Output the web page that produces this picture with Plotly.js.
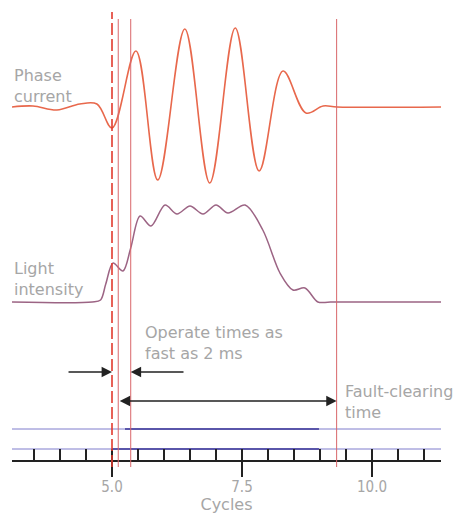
<!DOCTYPE html>
<html>
<head>
<meta charset="utf-8">
<script src="https://cdn.plot.ly/plotly-3.0.1.min.js"></script>
<style>html,body{margin:0;padding:0;background:#fff;}#chart{width:463px;height:516px;}</style>
</head>
<body>
<div id="chart"></div>
<script>
// ---- data (time axis in cycles) ----
const currentCycles = [3.077, 3.48, 3.94, 4.38, 4.71, 5.00, 5.46, 5.88, 6.40, 6.88, 7.37, 7.83, 8.29, 8.73, 9.06, 9.33, 11.327];
const phaseCurrent  = [0, 0.1, -0.3, 0.3, 0.3, -2.1, 5.6, -7.3, 7.8, -7.6, 7.9, -6.4, 3.6, -0.6, 0.1, 0, 0];

const lightCycles    = [3.077, 4.62, 4.78, 4.88, 5.02, 5.21, 5.36, 5.54, 5.75, 6.02, 6.25, 6.50, 6.75, 7.00, 7.23, 7.56, 7.90, 8.23, 8.48, 8.71, 8.96, 9.2, 11.327];
const lightIntensity = [0, 0, 0.2, 1.8, 3.9, 3.1, 5.4, 8.6, 7.6, 9.7, 8.8, 9.6, 8.8, 9.7, 8.9, 9.7, 7.2, 2.9, 1.2, 1.4, 0, 0, 0];

// event markers (cycles): fault inception (dashed), detection, trip output, fault cleared
const markerCycles = [5.0, 5.12, 5.36, 9.32];

// trip signals (levels in lower panel) with active interval
const tripLevels = [3.1, 1.1];
const tripStart  = [5.25, 5.0];
const tripEnd    = [8.98, 8.98];

// arrows in lower panel
const operateArrowLevel = 8.8;
const operateArrowFrom  = [4.135, 6.404];
const clearingArrowLevel = 5.9;

const xRange = [3.077, 11.327];
const tickVals = [5.0, 7.5, 10.0];

const textColor = '#a6a6a6';
const font = 'DejaVu Sans, sans-serif';

const traces = [
  {x: currentCycles, y: phaseCurrent, xaxis: 'x', yaxis: 'y', mode: 'lines',
   line: {color: '#e8684c', width: 1.6, shape: 'spline', smoothing: 1}, hoverinfo: 'skip'},
  {x: lightCycles, y: lightIntensity, xaxis: 'x', yaxis: 'y2', mode: 'lines',
   line: {color: '#9c6484', width: 1.5, shape: 'spline', smoothing: 0.9}, hoverinfo: 'skip'},
  // carrier trace so the minor-tick ruler axis is drawn
  {x: xRange, y: [0, 0], xaxis: 'x2', yaxis: 'y3', mode: 'lines', opacity: 0,
   line: {width: 0}, hoverinfo: 'skip'}
];
tripLevels.forEach((lv, i) => {
  traces.push({x: xRange, y: [lv, lv], xaxis: 'x', yaxis: 'y3', mode: 'lines',
    line: {color: '#7f7dcc', width: 1}, hoverinfo: 'skip'});
  traces.push({x: [tripStart[i], tripEnd[i]], y: [lv, lv], xaxis: 'x', yaxis: 'y3', mode: 'lines',
    line: {color: '#5a56aa', width: 2}, hoverinfo: 'skip'});
});

const shapes = markerCycles.map((c, i) => ({
  type: 'line', xref: 'x', yref: 'paper', x0: c, x1: c,
  y0: -0.0156, y1: i === 0 ? 0.9956 : 0.98,
  line: i === 0 ? {color: '#e23a2e', width: 1.6, dash: '12px,4px'} : {color: '#d9666a', width: 1}
}));

const annotations = [
  {xref: 'paper', yref: 'paper', x: 0, y: 0.831, xanchor: 'left', yanchor: 'middle', align: 'left',
   text: 'Phase<br>current', showarrow: false, font: {family: font, size: 16, color: textColor}},
  {xref: 'paper', yref: 'paper', x: 0, y: 0.403, xanchor: 'left', yanchor: 'middle', align: 'left',
   text: 'Light<br>intensity', showarrow: false, font: {family: font, size: 16, color: textColor}},
  {xref: 'paper', yref: 'paper', x: 0.3054, y: 0.2589, xanchor: 'left', yanchor: 'middle', align: 'left',
   text: 'Operate times as<br>fast as 2 ms', showarrow: false, font: {family: font, size: 16, color: textColor}},
  {xref: 'paper', yref: 'paper', x: 0.771, y: 0.1278, xanchor: 'left', yanchor: 'middle', align: 'left',
   text: 'Fault-clearing<br>time', showarrow: false, font: {family: font, size: 16, color: textColor}},
  // operate-time arrows
  {xref: 'x', yref: 'y3', axref: 'x', ayref: 'y3', x: markerCycles[0], y: operateArrowLevel,
   ax: operateArrowFrom[0], ay: operateArrowLevel, text: '', showarrow: true,
   arrowhead: 2, arrowsize: 1.6, arrowwidth: 1.3, arrowcolor: '#222'},
  {xref: 'x', yref: 'y3', axref: 'x', ayref: 'y3', x: markerCycles[2], y: operateArrowLevel,
   ax: operateArrowFrom[1], ay: operateArrowLevel, text: '', showarrow: true,
   arrowhead: 2, arrowsize: 1.6, arrowwidth: 1.3, arrowcolor: '#222'},
  // fault-clearing double arrow
  {xref: 'x', yref: 'y3', axref: 'x', ayref: 'y3', x: markerCycles[3], y: clearingArrowLevel,
   ax: markerCycles[1], ay: clearingArrowLevel, text: '', showarrow: true, arrowside: 'end+start',
   arrowhead: 2, startarrowhead: 2, arrowsize: 1.6, startarrowsize: 1.6, arrowwidth: 1.3, arrowcolor: '#222'}
];

const layout = {
  width: 463, height: 516,
  margin: {l: 12, r: 22, t: 10, b: 56},
  paper_bgcolor: '#fff', plot_bgcolor: '#fff',
  showlegend: false,
  font: {family: font, color: textColor},
  xaxis: {range: xRange, anchor: 'y3', showgrid: false, zeroline: false,
    showline: true, linecolor: '#222', linewidth: 1.5,
    ticks: 'outside', ticklen: 15, tickwidth: 1.5, tickcolor: '#222', ticklabelstandoff: -3,
    tickvals: tickVals, ticktext: tickVals.map(v => v.toFixed(1)),
    tickfont: {family: 'DejaVu Sans Condensed, DejaVu Sans, sans-serif', size: 15, color: textColor},
    title: {text: 'Cycles', font: {family: font, size: 16, color: textColor}, standoff: 3}},
  xaxis2: {range: xRange, overlaying: 'x', anchor: 'y3', side: 'bottom', showgrid: false, zeroline: false,
    showline: false, ticks: 'inside', ticklen: 11, tickwidth: 1.5, tickcolor: '#222',
    tickmode: 'linear', tick0: 0, dtick: 0.5, showticklabels: false},
  yaxis: {domain: [0.5778, 1], range: [-9.3, 9.7], visible: false},
  yaxis2: {domain: [0.3111, 0.5778], range: [-1.8, 10.2], visible: false},
  yaxis3: {domain: [0, 0.3111], range: [0, 14], visible: false},
  shapes: shapes,
  annotations: annotations
};

Plotly.newPlot('chart', traces, layout, {displayModeBar: false, staticPlot: true});
</script>
</body>
</html>
